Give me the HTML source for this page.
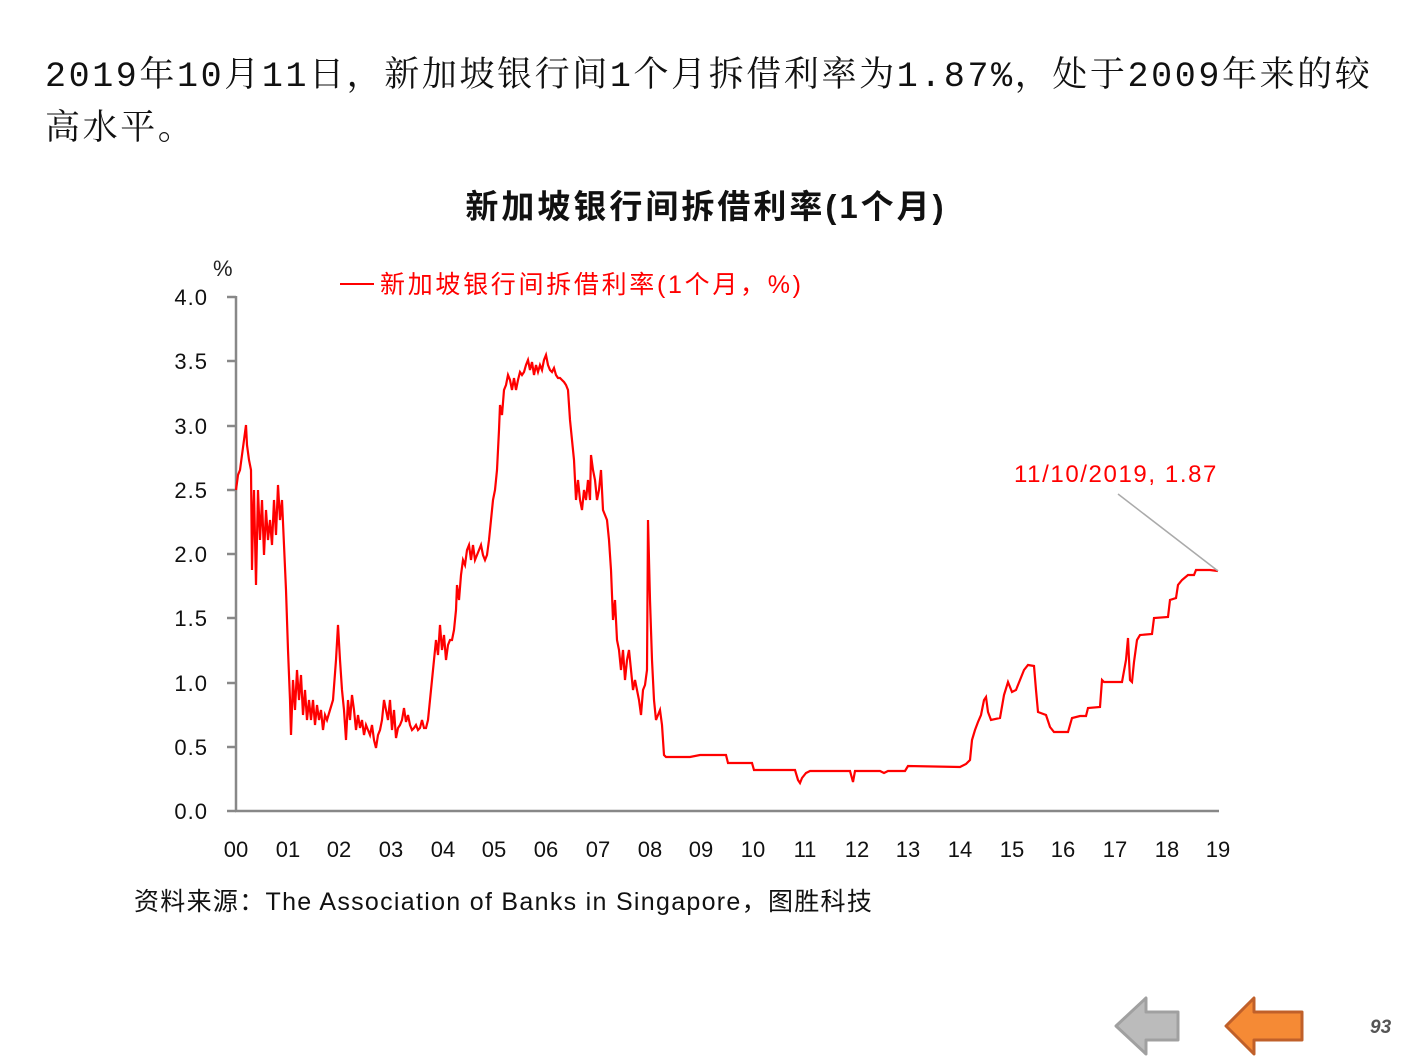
<!DOCTYPE html>
<html><head><meta charset="utf-8"><style>
html,body{margin:0;padding:0;background:#fff;}
body{width:1411px;height:1058px;position:relative;overflow:hidden;font-family:"Liberation Sans","Noto Sans CJK SC",sans-serif;}
.hd{position:absolute;left:45px;top:48px;font-family:"Liberation Mono","Noto Serif CJK SC",serif;font-size:35px;line-height:48px;color:#111;width:1380px;white-space:nowrap;letter-spacing:2.6px;}
.hd span{font-family:"Noto Serif CJK SC",serif;}
</style></head><body>
<div class="hd">2019<span>年</span>10<span>月</span>11<span>日，新加坡银行间</span>1<span>个月拆借利率为</span>1.87%<span>，处于</span>2009<span>年来的较</span><br><span>高水平。</span></div>
<svg width="1411" height="1058" style="position:absolute;left:0;top:0">
<text x="706" y="218" text-anchor="middle" font-size="33" font-weight="bold" fill="#111" letter-spacing="3" font-family="Liberation Sans,Noto Sans CJK SC,sans-serif">新加坡银行间拆借利率(1个月)</text>
<text x="213" y="276" font-size="22" fill="#222">%</text>
<line x1="340" y1="284" x2="374" y2="284" stroke="#f00" stroke-width="2"/>
<text x="380" y="293" font-size="25" fill="#f00" letter-spacing="2.7" font-family="Liberation Sans,Noto Sans CJK SC,sans-serif">新加坡银行间拆借利率(1个月，%)</text>
<g stroke="#888" stroke-width="2.5">
<line x1="236" y1="296" x2="236" y2="811"/>
<line x1="235" y1="811" x2="1219" y2="811"/>
<line x1="227" y1="297" x2="236" y2="297"/><line x1="227" y1="361" x2="236" y2="361"/>
<line x1="227" y1="426" x2="236" y2="426"/><line x1="227" y1="490" x2="236" y2="490"/>
<line x1="227" y1="554" x2="236" y2="554"/><line x1="227" y1="618" x2="236" y2="618"/>
<line x1="227" y1="683" x2="236" y2="683"/><line x1="227" y1="747" x2="236" y2="747"/>
<line x1="227" y1="811" x2="236" y2="811"/>
</g>
<g font-size="22" fill="#111" text-anchor="end" letter-spacing="1">
<text x="208" y="305">4.0</text><text x="208" y="369">3.5</text><text x="208" y="434">3.0</text>
<text x="208" y="498">2.5</text><text x="208" y="562">2.0</text><text x="208" y="626">1.5</text>
<text x="208" y="691">1.0</text><text x="208" y="755">0.5</text><text x="208" y="819">0.0</text>
</g>
<g font-size="22" fill="#111" text-anchor="middle">
<text x="236" y="857">00</text><text x="288" y="857">01</text><text x="339" y="857">02</text><text x="391" y="857">03</text><text x="443" y="857">04</text><text x="494" y="857">05</text><text x="546" y="857">06</text><text x="598" y="857">07</text><text x="650" y="857">08</text><text x="701" y="857">09</text><text x="753" y="857">10</text><text x="805" y="857">11</text><text x="857" y="857">12</text><text x="908" y="857">13</text><text x="960" y="857">14</text><text x="1012" y="857">15</text><text x="1063" y="857">16</text><text x="1115" y="857">17</text><text x="1167" y="857">18</text><text x="1218" y="857">19</text>
</g>
<polyline fill="none" stroke="#f00" stroke-width="2.2" stroke-linejoin="miter" points="236,490 238,475 240,470 242,455 244,440 246,425 247,445 249,460 251,470 252,570 253,520 254,490 256,585 258,490 260,540 262,500 264,555 266,510 268,540 270,520 272,545 274,500 276,535 278,485 280,520 282,500 284,545 286,590 288,650 290,700 291,735 293,680 295,710 297,670 299,700 301,675 303,715 305,690 307,720 309,700 311,720 313,700 315,725 317,705 319,720 321,710 323,730 325,715 327,720 330,710 333,700 336,660 338,625 340,660 342,690 344,710 346,740 348,700 350,720 352,695 354,710 356,730 358,715 360,728 362,720 364,735 366,725 368,730 370,735 372,725 374,740 376,748 378,735 380,730 382,720 384,700 386,710 388,720 390,700 392,730 394,710 396,738 398,728 400,725 402,720 404,708 406,722 408,715 410,725 412,730 414,728 416,725 418,730 420,728 422,720 424,728 426,728 428,720 430,700 432,680 434,660 436,640 438,655 440,625 442,650 444,635 446,660 448,645 450,640 452,640 454,630 456,610 457,585 459,600 461,575 463,560 465,565 467,550 469,545 471,560 473,545 475,560 477,555 479,550 481,545 483,555 485,560 487,555 489,540 491,520 493,500 495,490 497,470 499,430 500,405 502,415 504,390 506,385 508,375 510,380 512,390 514,378 516,390 518,380 520,372 522,375 524,372 526,365 528,360 530,370 532,362 534,375 536,365 538,372 540,365 542,370 544,360 546,355 548,365 550,370 552,372 554,368 556,375 558,378 560,378 562,380 564,382 566,385 568,390 570,420 572,440 574,460 576,500 578,480 580,500 582,510 584,490 586,500 588,480 590,500 591,455 593,470 595,480 597,500 599,490 601,470 603,510 605,515 607,520 609,540 611,570 613,620 615,600 617,640 619,650 621,670 623,650 625,680 627,660 629,650 631,670 633,690 635,680 637,690 639,700 641,715 643,690 645,685 647,670 648,520 650,600 652,660 654,700 656,720 658,715 660,710 662,725 664,755 666,757 690,757 700,755 726,755 728,763 752,763 754,770 795,770 798,780 800,783 802,778 806,773 810,771 850,771 853,782 855,771 880,771 884,773 888,771 905,771 908,766 960,767 966,764 970,760 972,740 975,730 978,722 981,715 984,700 986,697 988,712 991,720 1000,718 1004,695 1008,682 1012,692 1016,690 1020,680 1024,670 1028,665 1034,666 1036,690 1038,712 1046,715 1050,727 1054,732 1068,732 1072,718 1080,716 1086,716 1088,708 1100,707 1102,680 1104,682 1122,682 1126,660 1128,638 1130,680 1132,682 1134,662 1137,640 1140,635 1152,634 1154,618 1168,617 1170,600 1176,598 1178,585 1182,580 1188,575 1194,575 1196,570 1208,570 1210,570 1218,571"/>
<line x1="1118" y1="494" x2="1218" y2="571" stroke="#aaa" stroke-width="1.5"/>
<text x="1014" y="482" font-size="24" fill="#f00" letter-spacing="1.6">11/10/2019, 1.87</text>
<text x="134" y="910" font-size="25" fill="#111" letter-spacing="1.3" font-family="Liberation Sans,Noto Sans CJK SC,sans-serif">资料来源：The  Association of Banks in Singapore，图胜科技</text>
<polygon points="1116,1026 1146,998 1146,1012 1178,1012 1178,1040 1146,1040 1146,1054" fill="#bbb" stroke="#a0a0a0" stroke-width="3" stroke-linejoin="round"/>
<polygon points="1226,1026 1254,998 1254,1012 1302,1012 1302,1040 1254,1040 1254,1054" fill="#f58a35" stroke="#c0602a" stroke-width="3" stroke-linejoin="round"/>
<text x="1370" y="1033" font-size="19" font-weight="bold" font-style="italic" fill="#555">93</text>
</svg>
</body></html>
